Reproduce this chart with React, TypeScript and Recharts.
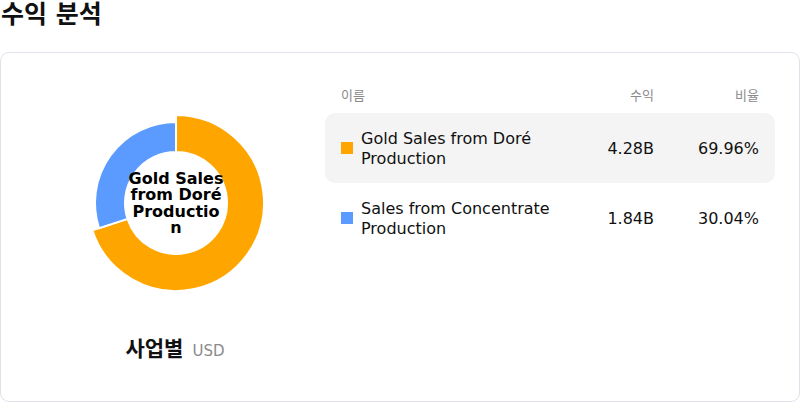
import React from "react";
import { PieChart, Pie, Cell } from "recharts";

const names = ["Gold Sales from Doré Production", "Sales from Concentrate Production"];
const revenues = [4.28, 1.84];
const shares = [69.96, 30.04];
const colors = ["#FFA500", "#5B9BFF"];
const headers = ["이름", "수익", "비율"];

const data = names.map((n, i) => ({ name: n, value: shares[i], revenue: revenues[i] }));

const FONT = "'DejaVu Sans', 'Noto Sans CJK KR', sans-serif";

export default function App() {
  return (
    <div
      style={{
        position: "fixed",
        left: 0,
        top: 0,
        width: 800,
        height: 402,
        background: "#fff",
        fontFamily: FONT,
        color: "#111",
        overflow: "hidden",
      }}
    >
      <div
        style={{
          position: "absolute",
          left: 1,
          top: 0,
          fontSize: 25,
          fontWeight: 700,
          lineHeight: "30px",
        }}
      >
        수익 분석
      </div>
      <div
        style={{
          position: "absolute",
          left: 0,
          top: 52,
          width: 798,
          height: 348,
          border: "1px solid #e2e0ea",
          borderRadius: 9,
        }}
      />
      <div style={{ position: "absolute", left: 26, top: 53, width: 300, height: 300 }}>
        <PieChart width={300} height={300} margin={{ top: 0, right: 0, bottom: 0, left: 0 }}>
          <Pie
            data={data}
            dataKey="value"
            nameKey="name"
            cx={150}
            cy={150}
            innerRadius={51}
            outerRadius={88}
            startAngle={90}
            endAngle={-270}
            isAnimationActive={false}
          >
            {data.map((d, i) => (
              <Cell
                key={i}
                fill={i === 0 ? colors[i] : "transparent"}
                stroke={i === 0 ? "#fff" : "none"}
                strokeWidth={2}
              />
            ))}
          </Pie>
          <Pie
            data={data}
            dataKey="value"
            nameKey="name"
            cx={150}
            cy={150}
            innerRadius={51}
            outerRadius={81}
            startAngle={90}
            endAngle={-270}
            isAnimationActive={false}
          >
            {data.map((d, i) => (
              <Cell
                key={i}
                fill={i === 1 ? colors[i] : "transparent"}
                stroke={i === 1 ? "#fff" : "none"}
                strokeWidth={2}
              />
            ))}
          </Pie>
        </PieChart>
      </div>
      <div
        style={{
          position: "absolute",
          left: 176 - 48,
          top: 171,
          width: 96,
          textAlign: "center",
          fontSize: 16,
          fontWeight: 700,
          lineHeight: "16.3px",
          overflowWrap: "anywhere",
          color: "#000",
        }}
      >
        {names[0]}
      </div>
      <div
        style={{
          position: "absolute",
          left: 25,
          width: 300,
          top: 332,
          textAlign: "center",
          whiteSpace: "nowrap",
        }}
      >
        <span style={{ fontSize: 21, fontWeight: 700, color: "#111" }}>사업별</span>
        <span style={{ fontSize: 15, color: "#8a8a8a", marginLeft: 9 }}>USD</span>
      </div>
      {/* table header */}
      <div style={{ position: "absolute", left: 341, top: 85, fontSize: 13, color: "#8a8a8a" }}>
        {headers[0]}
      </div>
      <div
        style={{ position: "absolute", left: 554, width: 100, top: 85, fontSize: 13, color: "#8a8a8a", textAlign: "right" }}
      >
        {headers[1]}
      </div>
      <div
        style={{ position: "absolute", left: 659, width: 100, top: 85, fontSize: 13, color: "#8a8a8a", textAlign: "right" }}
      >
        {headers[2]}
      </div>
      {data.map((d, i) => {
        const top = 113 + i * 70;
        return (
          <div
            key={i}
            style={{
              position: "absolute",
              left: 325,
              top,
              width: 450,
              height: 70,
              borderRadius: 10,
              background: i === 0 ? "#f4f4f4" : "transparent",
            }}
          >
            <div
              style={{
                position: "absolute",
                left: 16,
                top: 29,
                width: 12,
                height: 12,
                background: colors[i],
              }}
            />
            <div
              style={{
                position: "absolute",
                left: 36,
                top: 16,
                width: 200,
                fontSize: 16,
                lineHeight: "19.5px",
                color: "#111",
              }}
            >
              {d.name}
            </div>
            <div
              style={{
                position: "absolute",
                left: 229,
                width: 100,
                top: 26,
                fontSize: 16,
                lineHeight: "20px",
                textAlign: "right",
                color: "#111",
              }}
            >
              {d.revenue.toFixed(2)}B
            </div>
            <div
              style={{
                position: "absolute",
                left: 334,
                width: 100,
                top: 26,
                fontSize: 16,
                lineHeight: "20px",
                textAlign: "right",
                color: "#111",
              }}
            >
              {d.value.toFixed(2)}%
            </div>
          </div>
        );
      })}
    </div>
  );
}
